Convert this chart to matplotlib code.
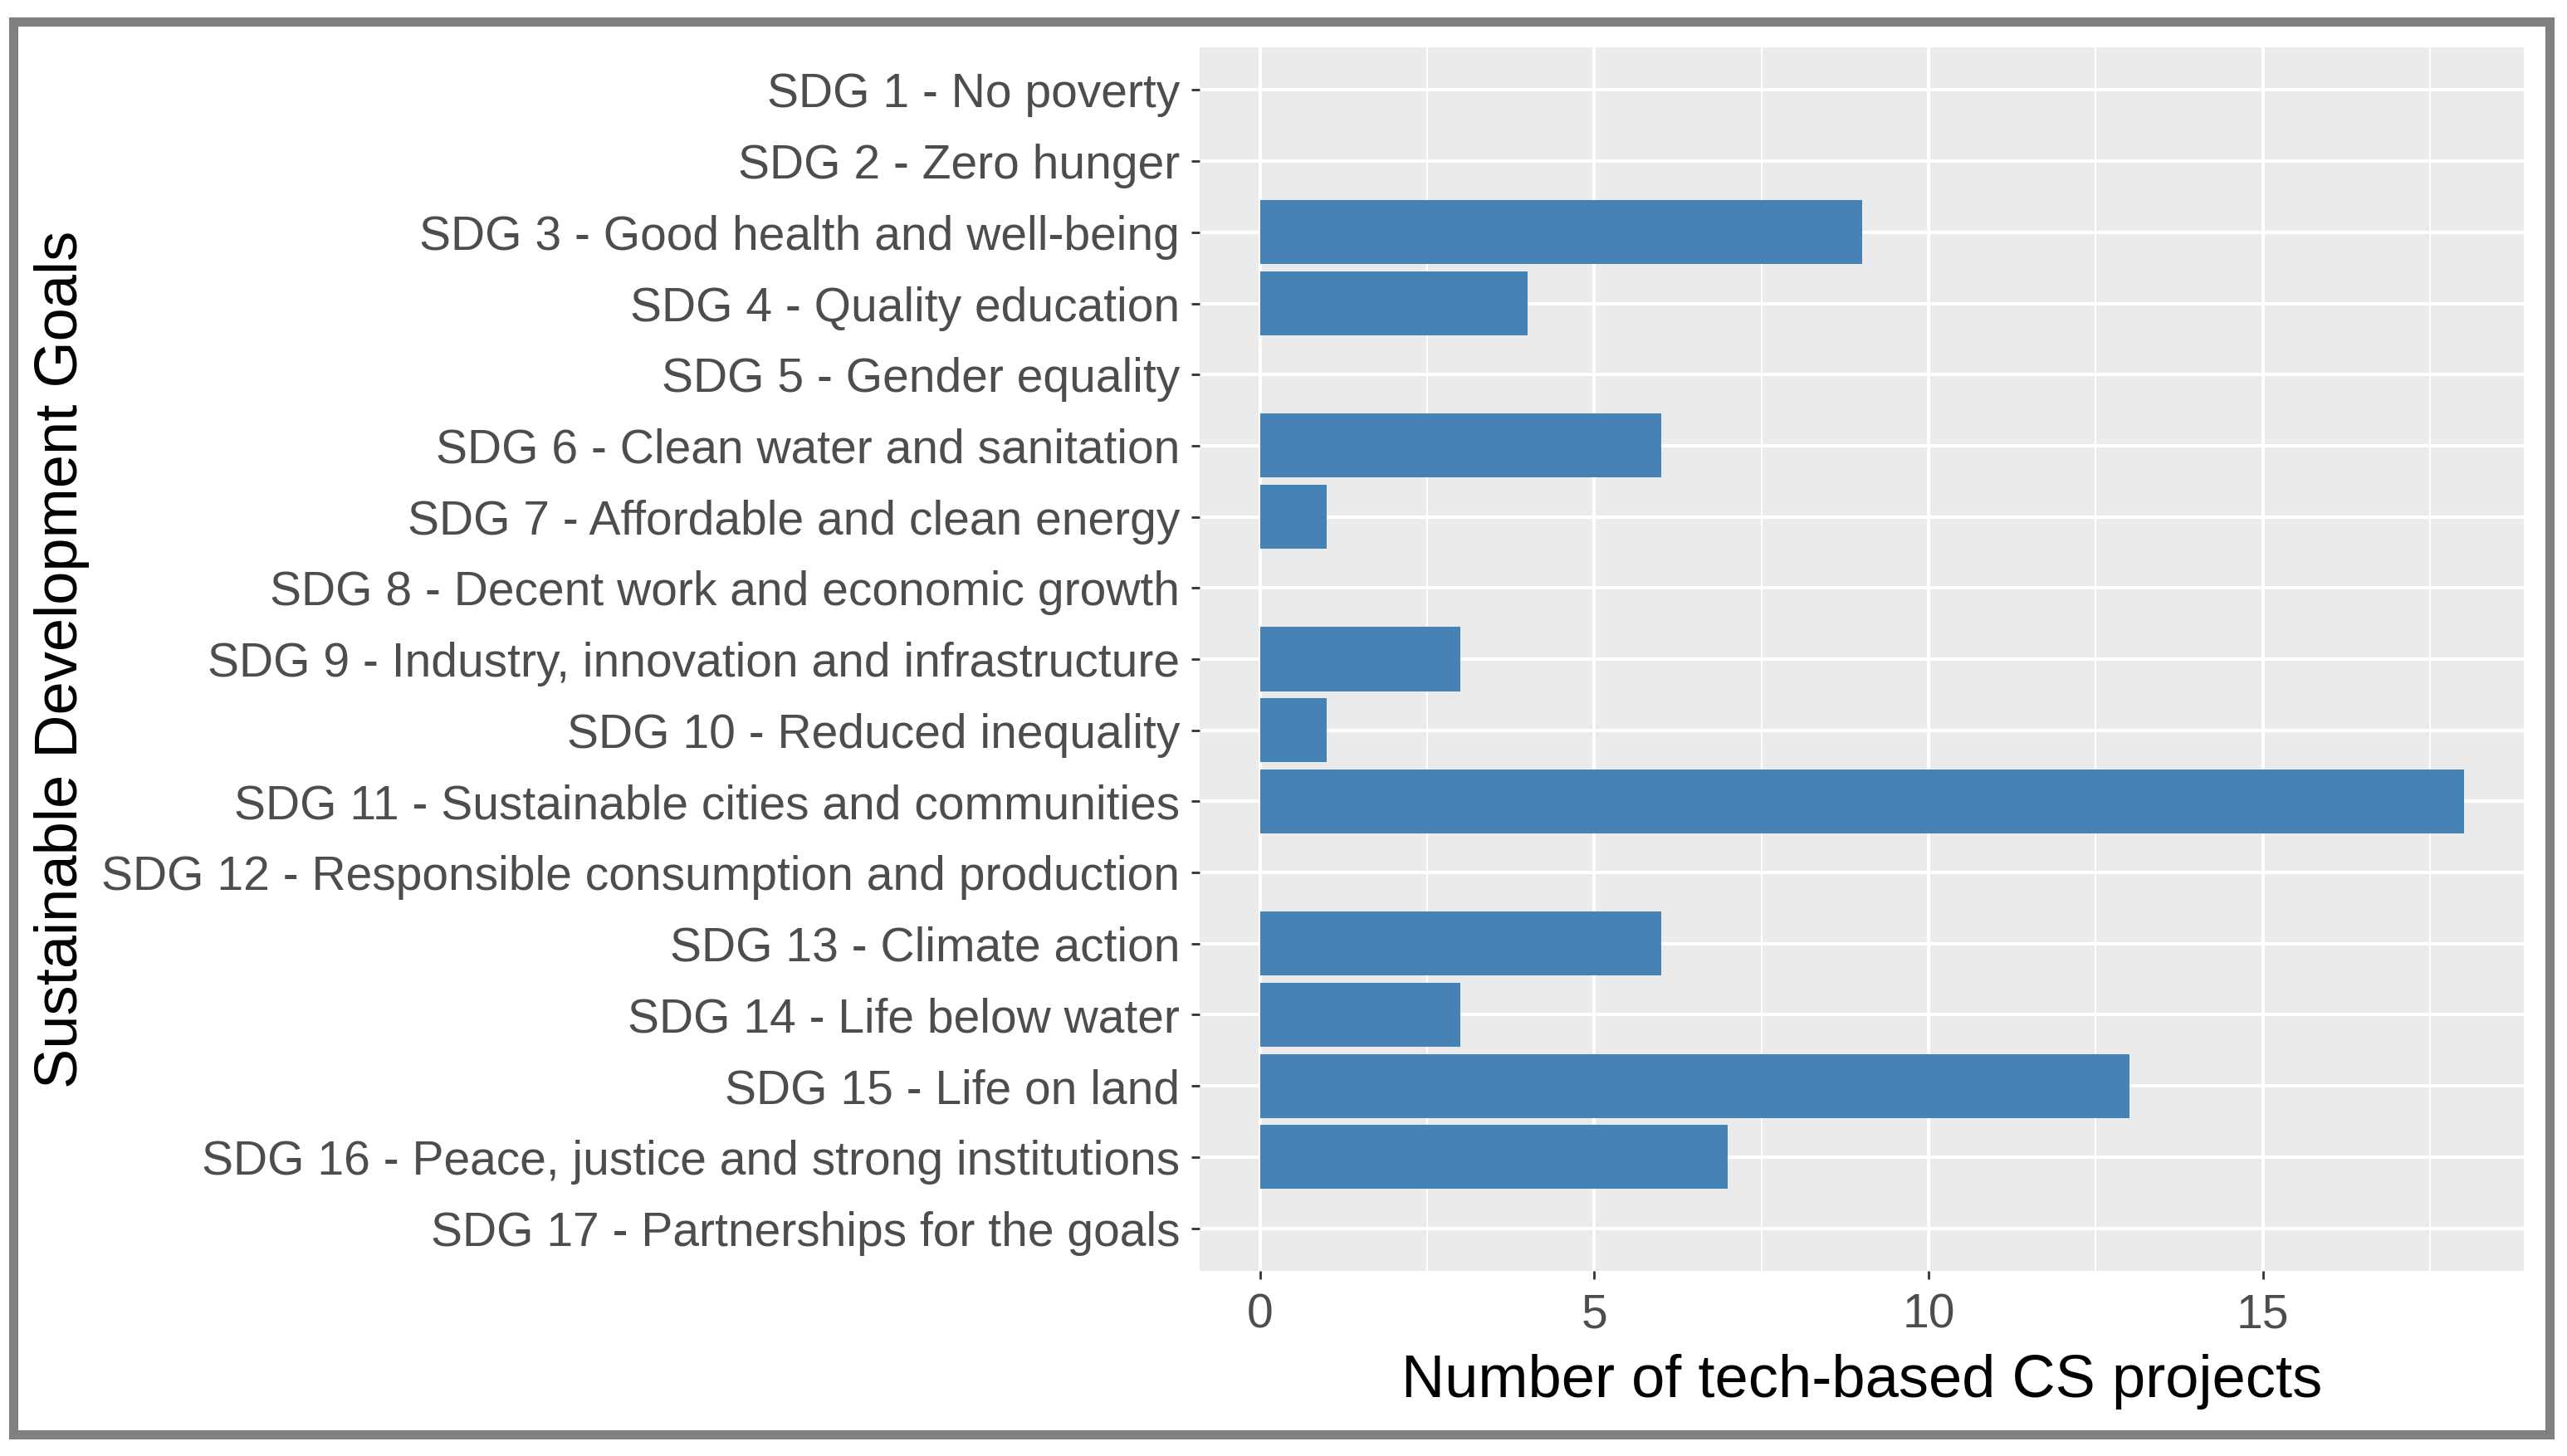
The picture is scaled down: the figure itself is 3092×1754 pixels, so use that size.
import numpy as np
import matplotlib
matplotlib.use("Agg")
import matplotlib.pyplot as plt
from matplotlib.patches import Rectangle

plt.rcParams['font.family'] = ['Liberation Sans', 'DejaVu Sans']

goals = [
    "SDG 1 - No poverty",
    "SDG 2 - Zero hunger",
    "SDG 3 - Good health and well-being",
    "SDG 4 - Quality education",
    "SDG 5 - Gender equality",
    "SDG 6 - Clean water and sanitation",
    "SDG 7 - Affordable and clean energy",
    "SDG 8 - Decent work and economic growth",
    "SDG 9 - Industry, innovation and infrastructure",
    "SDG 10 - Reduced inequality",
    "SDG 11 - Sustainable cities and communities",
    "SDG 12 - Responsible consumption and production",
    "SDG 13 - Climate action",
    "SDG 14 - Life below water",
    "SDG 15 - Life on land",
    "SDG 16 - Peace, justice and strong institutions",
    "SDG 17 - Partnerships for the goals",
]
projects = [0, 0, 9, 4, 0, 6, 1, 0, 3, 1, 18, 0, 6, 3, 13, 7, 0]
x_ticks = [0, 5, 10, 15]

W, H = 3092, 1754
dpi = 200
fig = plt.figure(figsize=(W / dpi, H / dpi), dpi=dpi)
fig.patch.set_facecolor("white")

# gray frame around the whole figure
fig.patches.append(Rectangle((15.5 / W, 26.5 / H), (3070.5 - 15.5) / W, (1728 - 26.5) / H,
                             transform=fig.transFigure, fill=False,
                             edgecolor="#808080", linewidth=4.0))

ax = fig.add_axes([1445 / W, (H - 1531) / H, (3040 - 1445) / W, (1531 - 57) / H])
ax.set_facecolor("#EBEBEB")

y = np.arange(len(goals))
ax.barh(y, projects, height=0.9, color="#4682B4", zorder=3)

ax.set_ylim(len(goals) - 1 + 0.6, -0.6)
ax.set_xlim(-0.9, 18.9)
ax.set_yticks(y)
ax.set_yticklabels(goals)
ax.set_xticks(x_ticks)
ax.set_xticks([2.5, 7.5, 12.5, 17.5], minor=True)

ax.grid(which="major", color="white", linewidth=1.45, zorder=1)
ax.grid(which="minor", axis="x", color="white", linewidth=0.75, zorder=1)
ax.set_axisbelow(True)

for s in ax.spines.values():
    s.set_visible(False)

ax.tick_params(axis="y", which="major", length=3.6, width=1.0, color="#333333",
               labelsize=20.5, labelcolor="#4D4D4D", pad=5)
ax.tick_params(axis="x", which="major", length=3.6, width=1.0, color="#333333",
               labelsize=20.5, labelcolor="#4D4D4D", pad=6)
ax.tick_params(axis="both", which="minor", length=0)

ax.set_xlabel("Number of tech-based CS projects", fontsize=26, color="black", labelpad=7)
ax.set_ylabel("Sustainable Development Goals", fontsize=26, color="black", labelpad=5)

fig.savefig("out.png", dpi=dpi)
